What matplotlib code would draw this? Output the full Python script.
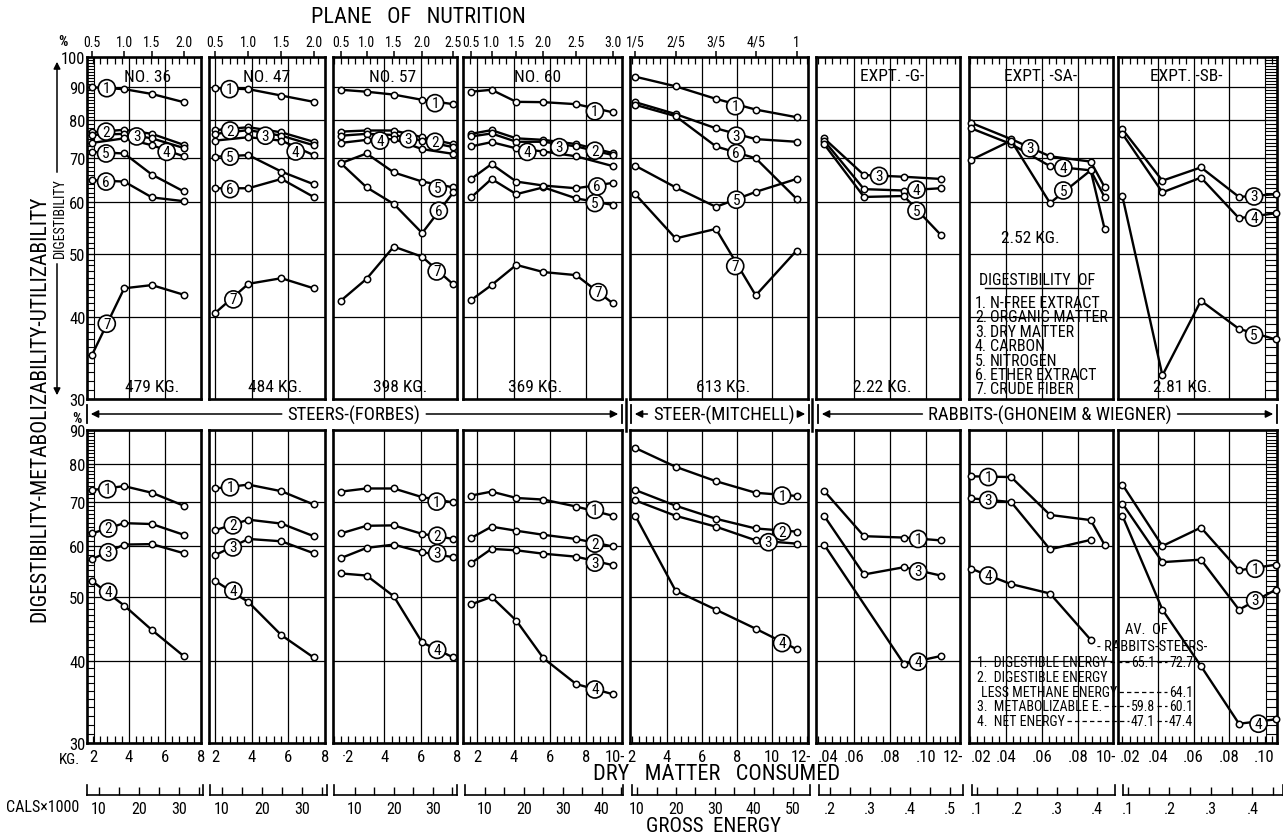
import numpy as np
import matplotlib
matplotlib.use("Agg")
import matplotlib.pyplot as plt
import matplotlib.transforms as mtransforms
from matplotlib.collections import LineCollection
from matplotlib.ticker import FixedLocator, NullLocator, NullFormatter
from matplotlib import font_manager as fm

# ---------------------------------------------------------------- fonts
installed = {f.name for f in fm.fontManager.ttflist}
FONT = "DejaVu Sans"
for cand in ("Liberation Sans Narrow", "Roboto Condensed", "Roboto", "Liberation Sans"):
    if cand in installed:
        FONT = cand
        break
plt.rcParams["font.family"] = [FONT, "DejaVu Sans"]

# ---------------------------------------------------------------- data
# dry matter consumed in each feeding period (kg), shared by both rows
x_no36 = [1.93, 3.73, 5.27, 7.04]
x_no47 = [2.0, 3.82, 5.62, 7.38]
x_no57 = [1.6, 3.02, 4.52, 6.08, 7.8]
x_no60 = [1.65, 2.78, 4.15, 5.65, 7.46, 9.5]
x_mitchell = [2.2, 4.5, 6.8, 9.07, 11.4]
x_expt_g = [0.0434, 0.0656, 0.0878, 0.1082]
x_expt_sa = [0.0206, 0.0428, 0.0644, 0.087, 0.0948]
x_expt_sb = [0.02, 0.0425, 0.0642, 0.0856, 0.1064]

# plane of nutrition at each period
plane_no36 = ["0.5", "1.0", "1.5", "2.0"]
plane_no47 = ["0.5", "1.0", "1.5", "2.0"]
plane_no57 = ["0.5", "1.0", "1.5", "2.0", "2.5"]
plane_no60 = ["0.5", "1.0", "1.5", "2.0", "2.5", "3.0"]
plane_mitchell = ["1/5", "2/5", "3/5", "4/5", "1"]

# digestibility (%) of ration fractions, keyed by fraction number
no36_digest = {1: [89.9, 89.3, 87.8, 85.3], 2: [76.7, 77.4, 76.3, 73.4],
               3: [76.0, 76.3, 75.1, 72.6], 4: [73.9, 75.1, 73.3, 70.5],
               5: [71.6, 71.2, 66.1, 62.3], 6: [64.8, 64.5, 61.0, 60.2],
               7: [35.0, 44.3, 44.8, 43.3]}
no47_digest = {1: [89.6, 89.3, 87.3, 85.4], 2: [77.3, 78.1, 76.7, 74.2],
               3: [76.3, 77.3, 75.8, 73.3], 4: [74.5, 75.4, 74.5, 70.8],
               5: [70.4, 70.8, 66.8, 63.9], 6: [63.0, 63.0, 65.1, 61.1],
               7: [40.6, 45.0, 45.9, 44.3]}
no57_digest = {1: [89.1, 88.5, 87.6, 86.0, 84.7], 2: [76.9, 77.2, 77.2, 75.4, 73.6],
               3: [75.8, 76.3, 76.0, 74.5, 72.8], 4: [73.9, 74.7, 74.9, 72.3, 71.1],
               5: [68.8, 71.2, 66.6, 64.5, 63.2], 6: [68.8, 63.2, 59.6, 53.8, 62.1],
               7: [42.4, 45.8, 51.3, 49.5, 44.9]}
no60_digest = {1: [88.5, 89.1, 85.4, 85.3, 84.7, 82.3], 2: [76.3, 77.3, 75.1, 74.7, 73.6, 71.3],
               3: [75.6, 76.4, 74.2, 74.2, 73.0, 70.8], 4: [73.0, 74.1, 72.5, 71.7, 70.5, 68.1],
               5: [61.0, 65.1, 61.7, 63.2, 60.8, 59.4], 6: [65.1, 68.6, 64.5, 63.6, 63.0, 64.2],
               7: [42.5, 44.8, 48.1, 46.9, 46.4, 42.0]}
mitchell_digest = {1: [93.3, 90.2, 86.3, 83.1, 80.9], 3: [85.3, 81.8, 77.8, 74.9, 74.2],
                   6: [84.5, 81.2, 73.0, 70.0, 60.7], 5: [68.2, 63.2, 59.0, 62.2, 65.1],
                   7: [61.7, 52.8, 54.6, 43.2, 50.6]}
expt_g_digest = {3: [75.1, 66.0, 65.6, 65.1], 4: [74.5, 62.8, 62.5, 63.0],
                 5: [73.6, 61.1, 61.3, 53.5]}
expt_sa_digest = {3: [79.3, 74.9, 70.5, 69.2, 63.2], 4: [77.8, 73.6, 68.1, 67.1, 61.0],
                  5: [69.6, 74.5, 59.8, 67.1, 54.5]}
expt_sb_digest = {3: [77.5, 64.7, 67.8, 61.1, 61.7], 4: [76.3, 62.1, 65.4, 56.7, 57.7],
                  5: [61.2, 32.6, 42.4, 38.4, 37.0]}

# utilization (%) of gross energy, keyed by energy fraction number
no36_energy = {1: [72.9, 73.9, 72.2, 69.0], 2: [62.6, 64.9, 64.7, 62.3],
               3: [57.2, 60.2, 60.3, 58.4], 4: [53.0, 48.6, 44.6, 40.7]}
no47_energy = {1: [73.3, 74.3, 72.6, 69.3], 2: [63.3, 65.7, 64.8, 62.0],
               3: [58.0, 61.4, 60.9, 58.4], 4: [53.0, 49.2, 43.8, 40.5]}
no57_energy = {1: [72.5, 73.3, 73.3, 71.1, 69.8], 2: [62.6, 64.3, 64.4, 62.5, 61.4],
               3: [57.4, 59.5, 60.2, 58.6, 57.6], 4: [54.4, 54.0, 50.2, 42.7, 40.5]}
no60_energy = {1: [71.5, 72.5, 70.9, 70.5, 68.8, 66.6], 2: [61.6, 64.1, 63.2, 62.3, 61.4, 59.8],
               3: [56.4, 59.3, 59.0, 58.3, 57.7, 56.0], 4: [48.8, 50.1, 46.1, 40.4, 36.9, 35.6]}
mitchell_energy = {1: [84.5, 79.1, 75.2, 72.2, 71.4], 2: [72.9, 69.0, 65.9, 63.7, 63.0],
                   3: [70.3, 66.6, 64.1, 61.1, 60.4], 4: [66.6, 51.2, 47.9, 44.8, 41.7]}
expt_g_energy = {1: [72.7, 62.0, 61.7, 61.1], 3: [66.6, 54.2, 55.6, 54.0],
                 4: [60.2, np.nan, 39.6, 40.7]}
expt_sa_energy = {1: [76.5, 76.3, 66.8, 65.6, 60.1], 3: [70.8, 69.9, 59.2, 61.2, np.nan],
                  4: [55.3, 52.4, 50.7, 43.1, np.nan]}
expt_sb_energy = {1: [74.3, 59.9, 63.9, 55.0, 56.1], 3: [69.5, 56.6, 57.1, 47.9, 51.4],
                  4: [66.6, 47.9, 39.3, 32.1, 32.6]}

# where each circled curve number sits (x, %)
no36_digest_tags = {1: (2.76, 89.6), 2: (2.72, 76.9), 3: (4.42, 75.6), 4: (6.09, 71.6),
                    5: (2.72, 71.2), 6: (2.72, 64.5), 7: (2.76, 39.1)}
no47_digest_tags = {1: (2.79, 89.3), 2: (2.82, 77.2), 3: (4.75, 75.8), 4: (6.4, 71.7),
                    5: (2.82, 70.4), 6: (2.82, 62.8), 7: (3.0, 42.6)}
no57_digest_tags = {1: (6.79, 85.0), 2: (6.79, 74.2), 3: (5.32, 74.9), 4: (3.76, 74.5),
                    5: (6.94, 63.0), 6: (7.0, 58.2), 7: (6.88, 47.0)}
no60_digest_tags = {1: (8.5, 82.6), 2: (8.5, 71.9), 3: (6.53, 72.8), 4: (4.76, 71.6),
                    5: (8.5, 59.8), 6: (8.63, 63.4), 7: (8.69, 43.7)}
mitchell_digest_tags = {1: (7.9, 84.1), 3: (7.96, 75.8), 6: (7.96, 71.3),
                        5: (7.96, 60.5), 7: (7.9, 47.9)}
expt_g_digest_tags = {3: (0.074, 65.8), 4: (0.0948, 62.7), 5: (0.0948, 58.2)}
expt_sa_digest_tags = {3: (0.0533, 72.5), 4: (0.0718, 67.7), 5: (0.0718, 62.5)}
expt_sb_digest_tags = {3: (0.0941, 61.2), 4: (0.0941, 56.8), 5: (0.0941, 37.6)}

no36_energy_tags = {1: (2.79, 73.1), 2: (2.84, 63.7), 3: (2.84, 58.6), 4: (2.84, 51.0)}
no47_energy_tags = {1: (2.82, 73.6), 2: (2.97, 64.4), 3: (2.97, 59.6), 4: (3.0, 51.2)}
no57_energy_tags = {1: (6.88, 70.0), 2: (6.91, 62.1), 3: (6.91, 58.4), 4: (6.91, 41.6)}
no60_energy_tags = {1: (8.5, 68.0), 2: (8.5, 60.4), 3: (8.5, 56.5), 4: (8.5, 36.2)}
mitchell_energy_tags = {1: (10.57, 71.5), 2: (10.57, 63.0), 3: (9.8, 60.7), 4: (10.57, 42.6)}
expt_g_energy_tags = {1: (0.0957, 61.4), 3: (0.0957, 54.8), 4: (0.0957, 39.9)}
expt_sa_energy_tags = {1: (0.0301, 76.3), 3: (0.0301, 70.4), 4: (0.0301, 54.0)}
expt_sb_energy_tags = {1: (0.0947, 55.3), 3: (0.0947, 49.5), 4: (0.0966, 32.1)}

# animal identification and live weight
panel_titles = ["NO. 36", "NO. 47", "NO. 57", "NO. 60", "", "EXPT. -G-", "EXPT. -SA-", "EXPT. -SB-"]
live_weights = ["479 KG.", "484 KG.", "398 KG.", "369 KG.", "613 KG.", "2.22 KG.", "2.52 KG.", "2.81 KG."]

digestibility_of = ["N-FREE EXTRACT", "ORGANIC MATTER", "DRY MATTER", "CARBON",
                    "NITROGEN", "ETHER EXTRACT", "CRUDE FIBER"]
energy_terms = ["1.  DIGESTIBLE ENERGY", "2.  DIGESTIBLE ENERGY",
                "LESS METHANE ENERGY", "3.  METABOLIZABLE E.", "4.  NET ENERGY"]
avg_rabbits = ["65.1", "", "", "59.8", "47.1"]
avg_steers = ["72.7", "", "64.1", "60.1", "47.4"]

# ---------------------------------------------------------------- layout
W, H = 1283, 837
fig = plt.figure(figsize=(W / 100, H / 100), dpi=100)
renderer = fig.canvas.get_renderer()

COLS = [(87, 201), (209, 325), (333, 457), (463, 622),
        (630, 808), (816, 960), (969, 1113), (1118, 1277)]
TOP_ROW = (58, 400)
BOT_ROW = (431, 744)


def px_axes(x0, x1, y0, y1, **kw):
    return fig.add_axes([x0 / W, 1 - y1 / H, (x1 - x0) / W, (y1 - y0) / H], **kw)


# dry-matter scale labels: a number places the label at that value,
# "left"/"right" pins it to the panel edge where two scales meet
columns = [
    dict(x=x_no36, xlim=(1.66, 8.0), grid=[4, 6], step=0.4, plane=plane_no36,
         top=no36_digest, bot=no36_energy, ttag=no36_digest_tags, btag=no36_energy_tags,
         kg=[(2, "2"), (4, "4"), (6, "6"), (8, "8")],
         ge=((87, 203), (7, 36), np.arange(10, 36, 5), ["10", "", "20", "", "30", ""])),
    dict(x=x_no47, xlim=(1.67, 8.0), grid=[2, 4, 6], step=0.4, plane=plane_no47,
         top=no47_digest, bot=no47_energy, ttag=no47_digest_tags, btag=no47_energy_tags,
         kg=[(2, "2"), (4, "4"), (6, "6"), (8, "8")],
         ge=((210, 327), (7, 36.25), np.arange(10, 36, 5), ["10", "", "20", "", "30", ""])),
    dict(x=x_no57, xlim=(1.17, 8.0), grid=[4, 6], step=0.4, plane=plane_no57,
         top=no57_digest, bot=no57_energy, ttag=no57_digest_tags, btag=no57_energy_tags,
         kg=[(2, "·2"), (4, "4"), (6, "6"), (8, "8")],
         ge=((334, 457), (4.6, 36.2), np.arange(10, 36, 5), ["10", "", "20", "", "30", ""])),
    dict(x=x_no60, xlim=(1.2, 10.0), grid=[2, 4, 6, 8], step=0.4, plane=plane_no60,
         top=no60_digest, bot=no60_energy, ttag=no60_digest_tags, btag=no60_energy_tags,
         kg=[(2, "2"), (4, "4"), (6, "6"), (8, "8"), ("right", "10-")],
         ge=((465, 623), (4.9, 45.4), np.arange(10, 46, 5),
             ["10", "", "20", "", "30", "", "40", ""])),
    dict(x=x_mitchell, xlim=(1.9, 12.05), grid=[4, 6, 8, 10], step=0.4, plane=plane_mitchell,
         top=mitchell_digest, bot=mitchell_energy, ttag=mitchell_digest_tags,
         btag=mitchell_energy_tags,
         kg=[(2, "2"), (4, "4"), (6, "6"), (8, "8"), (10, "10"), ("right", "12-")],
         ge=((632, 810), (8.7, 54.4), np.arange(10, 51, 5),
             ["10", "", "20", "", "30", "", "40", "", "50"])),
    dict(x=x_expt_g, xlim=(0.0389, 0.119), grid=[0.06, 0.08, 0.10], step=0.004, plane=None,
         top=expt_g_digest, bot=expt_g_energy, ttag=expt_g_digest_tags, btag=expt_g_energy_tags,
         kg=[("left", ".04"), (0.06, ".06"), (0.08, ".08"), (0.10, ".10"), ("right", "12-")],
         ge=((819, 963), (0.1725, 0.5325), np.arange(0.2, 0.51, 0.05),
             [".2", "", ".3", "", ".4", "", ".5"])),
    dict(x=x_expt_sa, xlim=(0.0194, 0.0994), grid=[0.04, 0.06, 0.08], step=0.004, plane=None,
         top=expt_sa_digest, bot=expt_sa_energy, ttag=expt_sa_digest_tags,
         btag=expt_sa_energy_tags,
         kg=[("left", ".02"), (0.04, ".04"), (0.06, ".06"), (0.08, ".08"), ("right", "10-")],
         ge=((972, 1115), (0.0875, 0.445), np.arange(0.1, 0.41, 0.05),
             [".1", "", ".2", "", ".3", "", ".4"])),
    dict(x=x_expt_sb, xlim=(0.0175, 0.107), grid=[0.04, 0.06, 0.08], step=0.004, plane=None,
         top=expt_sb_digest, bot=expt_sb_energy, ttag=expt_sb_digest_tags,
         btag=expt_sb_energy_tags,
         kg=[("left", ".02"), (0.04, ".04"), (0.06, ".06"), (0.08, ".08"), (0.10, ".10")],
         ge=((1123, 1283), (0.088, 0.4735), np.arange(0.1, 0.46, 0.05),
             [".1", "", ".2", "", ".3", "", ".4", ""])),
]

LW_FRAME = 1.9
LW_GRID = 0.9
FS_TICK = 11.5


def setup_panel(ax, xlim, ylim, grid_x, step, top_row):
    ax.set_yscale("log")
    ax.set_xlim(*xlim)
    ax.set_ylim(*ylim)
    ax.yaxis.set_major_locator(FixedLocator([40, 50, 60, 70, 80, 90]))
    ax.yaxis.set_minor_locator(NullLocator())
    ax.yaxis.set_major_formatter(NullFormatter())
    ax.yaxis.set_minor_formatter(NullFormatter())
    ax.set_xticks(grid_x)
    ax.set_xticklabels([])
    start = np.ceil(xlim[0] / step) * step
    ax.set_xticks(np.arange(start, xlim[1], step), minor=True)
    ax.grid(True, which="major", color="k", lw=LW_GRID)
    ax.tick_params(which="major", length=0)
    ax.tick_params(which="minor", direction="in", length=5, width=0.9,
                   top=top_row, bottom=not top_row, labelbottom=False, labeltop=False)
    for s in ax.spines.values():
        s.set_linewidth(LW_FRAME)
    ax.set_axisbelow(True)


def draw_series(ax, xs, ys):
    xs = np.asarray(xs, float)
    ys = np.asarray(ys, float)
    ok = ~np.isnan(ys)
    ax.plot(xs[ok], ys[ok], color="k", lw=1.7, marker="o", ms=4.6, mfc="white",
            mec="k", mew=1.1, zorder=4, clip_on=False)


def draw_tags(ax, tags):
    for n, (tx, ty) in tags.items():
        ax.text(tx, ty, str(n), ha="center", va="center", fontsize=11, zorder=6,
                bbox=dict(boxstyle="circle,pad=0.1", fc="white", ec="k", lw=1.2))


def ladder(ax, xa, xb, vmin, vmax):
    tr = mtransforms.blended_transform_factory(ax.transAxes, ax.transData)
    segs = [[(xa, v), (xb, v)] for v in range(vmin, vmax + 1)]
    segs.append([(xa, vmin), (xa, vmax)])
    segs.append([(xb, vmin), (xb, vmax)])
    ax.add_collection(LineCollection(segs, colors="k", linewidths=0.8,
                                     transform=tr, zorder=3, clip_on=False))


def kg_label(bx, val, lab):
    kw = dict(textcoords="offset points", va="center", fontsize=FS_TICK + 0.5)
    if val == "right":
        bx.annotate(lab, xy=(1.0, 0.0), xycoords="axes fraction", xytext=(2.5, -9.5),
                    ha="right", **kw)
    elif val == "left":
        bx.annotate(lab, xy=(0.0, 0.0), xycoords="axes fraction", xytext=(1.5, -9.5),
                    ha="left", **kw)
    else:
        bx.annotate(lab, xy=(val, 0.0), xycoords=("data", "axes fraction"),
                    xytext=(0, -9.5), ha="center", **kw)


for i, col in enumerate(columns):
    x0, x1 = COLS[i]

    # ---- upper row: digestibility
    ax = px_axes(x0, x1, *TOP_ROW)
    setup_panel(ax, col["xlim"], (30, 100), col["grid"], col["step"], True)
    for key, ys in col["top"].items():
        draw_series(ax, col["x"], ys)
    draw_tags(ax, col["ttag"])
    if col["plane"] is not None:
        sec = ax.secondary_xaxis("top")
        sec.set_xticks(col["x"], col["plane"])
        sec.tick_params(direction="out", length=4, width=1.1, pad=2, labelsize=10)
        sec.spines["top"].set_visible(False)
    if i == 0:
        ax.set_yticks([30, 40, 50, 60, 70, 80, 90, 100])
        ax.set_yticklabels(["30", "40", "50", "60", "70", "80", "90", "100"], fontsize=FS_TICK + 0.5)
        ax.tick_params(axis="y", which="major", pad=1)
        ladder(ax, 0.0, 0.06, 30, 100)
    if i == 7:
        ladder(ax, 0.925, 1.0, 30, 100)

    # ---- lower row: energy utilization
    bx = px_axes(x0, x1, *BOT_ROW)
    setup_panel(bx, col["xlim"], (30, 90), col["grid"], col["step"], False)
    for key, ys in col["bot"].items():
        draw_series(bx, col["x"], ys)
    draw_tags(bx, col["btag"])
    for val, lab in col["kg"]:
        kg_label(bx, val, lab)
    if i == 0:
        bx.set_yticks([30, 40, 50, 60, 70, 80, 90])
        bx.set_yticklabels(["30", "40", "50", "60", "70", "80", "90"], fontsize=FS_TICK + 0.5)
        bx.tick_params(axis="y", which="major", pad=1)
        ladder(bx, 0.0, 0.065, 30, 90)
    if i == 7:
        ladder(bx, 0.93, 1.0, 30, 90)

    # ---- gross energy scale
    (g0, g1), glim, gticks, glabels = col["ge"]
    gx = px_axes(g0, g1, 786, 796)
    gx.set_facecolor("none")
    gx.set_xlim(*glim)
    gx.set_yticks([])
    gx.set_xticks(gticks, glabels)
    gx.tick_params(axis="x", direction="in", length=6, width=1.0, pad=4, labelsize=FS_TICK)
    gx.spines["top"].set_visible(False)
    for s in ("left", "right", "bottom"):
        gx.spines[s].set_linewidth(1.2)

# ---------------------------------------------------------------- annotations
ov = fig.add_axes([0, 0, 1, 1], facecolor="none")
ov.set_xlim(0, W)
ov.set_ylim(H, 0)
ov.axis("off")
ov.set_zorder(10)


def extent(t):
    bb = t.get_window_extent(renderer)
    return bb.x0, bb.x1


ov.text(418, 17, "PLANE   OF   NUTRITION", ha="center", va="center", fontsize=16)
ov.text(63, 42, "%", ha="center", va="center", fontsize=10.5, fontweight="bold")
ov.text(77, 419, "%", ha="center", va="center", fontsize=10.5, fontweight="bold")

ov.text(40, 409, "DIGESTIBILITY-METABOLIZABILITY-UTILIZABILITY", rotation=90,
        ha="center", va="center", fontsize=15.5)
ov.text(60, 218, "DIGESTIBILITY", rotation=90, ha="center", va="center", fontsize=10)
ov.annotate("", xy=(57, 60), xytext=(57, 176),
            arrowprops=dict(arrowstyle="-|>", color="k", lw=1.1, mutation_scale=10))
ov.annotate("", xy=(57, 399), xytext=(57, 262),
            arrowprops=dict(arrowstyle="-|>", color="k", lw=1.1, mutation_scale=10))

title_pos = [(148, 77), (267, 77), (393, 77), (538, 77), None, (892, 76), (1041, 76), (1186, 76)]
for t, pos in zip(panel_titles, title_pos):
    if t:
        ov.text(pos[0], pos[1], t, ha="center", va="center", fontsize=12.5)
weight_pos = [(152, 388), (275, 388), (400, 388), (535, 388), (723, 388),
              (882, 388), (1030, 238), (1182, 387)]
for t, (wx, wy) in zip(live_weights, weight_pos):
    ov.text(wx, wy, t, ha="center", va="center", fontsize=12.5)

# key to the digestibility curves
ov.text(1037, 280, "DIGESTIBILITY  OF", ha="center", va="center", fontsize=11.5)
ov.plot([985, 1090], [289, 289], color="k", lw=1.0)
for k, name in enumerate(digestibility_of):
    yy = 303 + k * 14.5
    ov.text(975, yy, f"{k + 1}.", ha="left", va="center", fontsize=11.5)
    ov.text(990, yy, name, ha="left", va="center", fontsize=11.5)

# key to the energy curves
FS_KEY = 10
lead = dict(color="k", lw=0.9, linestyle=(0, (3.5, 2.5)))
ov.text(1146, 630, "AV.  OF", ha="center", va="center", fontsize=10.5)
ov.text(1152, 647, "- RABBITS-STEERS-", ha="center", va="center", fontsize=10.5)
for k, (term, ra, st) in enumerate(zip(energy_terms, avg_rabbits, avg_steers)):
    yy = 663 + k * 14.8
    tt = ov.text(977 if k != 2 else 981, yy, term, ha="left", va="center", fontsize=FS_KEY)
    end = extent(tt)[1] + 2
    if ra:
        tr = ov.text(1155, yy, ra, ha="right", va="center", fontsize=FS_KEY)
        a0, a1 = extent(tr)
        ov.plot([end, a0 - 2], [yy, yy], **lead)
        end = a1 + 2
    if st:
        ts = ov.text(1193, yy, st, ha="right", va="center", fontsize=FS_KEY)
        b0, _ = extent(ts)
        ov.plot([end, b0 - 2], [yy, yy], **lead)

# animal groups
bar_y = 415
arrow_kw = dict(arrowstyle="-|>", color="k", lw=1.1, mutation_scale=11)
groups = [(87, 622, 354, "STEERS-(FORBES)"),
          (631, 809, 724, "STEER-(MITCHELL)"),
          (818, 1277, 1050, "RABBITS-(GHONEIM & WIEGNER)")]
for gl, gr, gc, name in groups:
    t = ov.text(gc, bar_y, name, ha="center", va="center", fontsize=13.5)
    a0, a1 = extent(t)
    ov.annotate("", xy=(gl + 1, bar_y), xytext=(a0 - 3, bar_y), arrowprops=arrow_kw)
    ov.annotate("", xy=(gr - 1, bar_y), xytext=(a1 + 3, bar_y), arrowprops=arrow_kw)
    ov.plot([gl, gl], [bar_y - 9, bar_y + 9], color="k", lw=1.3)
    ov.plot([gr, gr], [bar_y - 9, bar_y + 9], color="k", lw=1.3)
for sx in (626, 812):
    ov.plot([sx, sx], [400, 432], color="k", lw=1.8)

ov.text(70, 760, "KG.", ha="center", va="center", fontsize=11)
ov.text(717, 775, "DRY   MATTER   CONSUMED", ha="center", va="center", fontsize=16)
ov.text(43, 808, "CALS×1000", ha="center", va="center", fontsize=11.5)
ov.text(713, 827, "GROSS  ENERGY", ha="center", va="center", fontsize=15)

fig.savefig("out.png", dpi=100)
